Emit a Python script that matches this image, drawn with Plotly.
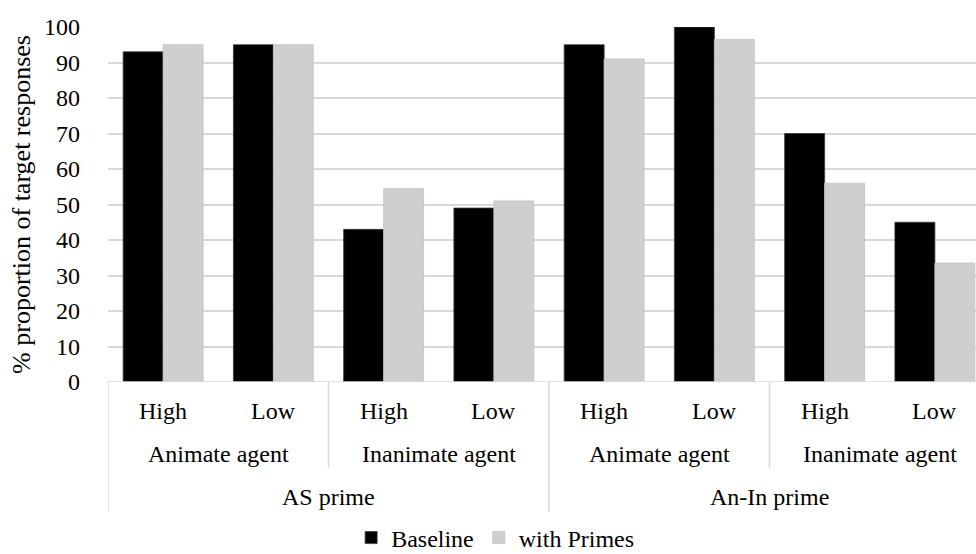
import plotly.graph_objects as go

# Grouping levels of the horizontal axis
primes = ["AS prime", "An-In prime"]
agents = ["Animate agent", "Inanimate agent"]
levels = ["High", "Low"]

# % proportion of target responses, one value per (prime, agent, level)
baseline = [93, 95, 43, 49, 95, 100, 70, 45]
with_primes = [95, 95, 54.5, 51, 91, 96.5, 56, 33.5]

y_ticks = [0, 10, 20, 30, 40, 50, 60, 70, 80, 90, 100]

FAMILY = "Liberation Serif"
GRID = "#D9D9D9"
GRAY = "#D0CECE"
FS = 24

# Flat category positions 0..7
n = len(primes) * len(agents) * len(levels)
xpos = list(range(n))
level_labels = [levels[i % len(levels)] for i in range(n)]

fig = go.Figure()
fig.add_trace(go.Bar(
    x=xpos, y=baseline, name="Baseline",
    marker=dict(color="#000000", line=dict(color="#3a3a3a", width=0.8)),
))
fig.add_trace(go.Bar(
    x=xpos, y=with_primes, name="with Primes",
    marker=dict(color=GRAY, line=dict(color="#c4c2c2", width=0.8)),
))

# Plot-area geometry in pixels (used to place the axis label rows)
W, H = 976, 554
L, R, T, B = 108, 0, 27, 172
ph = H - T - B


def py(px_below):
    """paper y for a distance in pixels below the x axis"""
    return -px_below / ph


def label(x, dy, text):
    fig.add_annotation(x=x, y=py(dy), xref="x", yref="paper", text=text,
                       showarrow=False, yanchor="middle", xanchor="center",
                       font=dict(family=FAMILY, size=FS, color="black"))


# level row
for i, lab in enumerate(level_labels):
    label(i, 29, lab)
# agent row
n_agent = len(levels)
for j in range(len(primes) * len(agents)):
    label(j * n_agent + (n_agent - 1) / 2, 72, agents[j % len(agents)])
# prime row
n_prime = len(agents) * len(levels)
for k, lab in enumerate(primes):
    label(k * n_prime + (n_prime - 1) / 2, 115, lab)

# dividers between agent groups (short) and prime groups (long)
for j in range(len(primes) * len(agents) + 1):
    xb = j * n_agent - 0.5
    long_line = (j % len(agents) == 0)
    fig.add_shape(type="line", xref="x", yref="paper", x0=xb, x1=xb,
                  y0=0, y1=py(130 if long_line else 86),
                  line=dict(color=GRID, width=1.5))
# x axis baseline
fig.add_shape(type="line", xref="paper", yref="y", x0=0, x1=1, y0=0, y1=0,
              line=dict(color=GRID, width=1.5))

fig.update_layout(
    width=W, height=H,
    margin=dict(l=L, r=R, t=T, b=B, autoexpand=False),
    plot_bgcolor="white", paper_bgcolor="white",
    barmode="group", bargap=0.275, bargroupgap=0,
    xaxis=dict(range=[-0.5, 7.373], showticklabels=False, showgrid=False,
               zeroline=False, showline=False, ticks=""),
    yaxis=dict(range=[0, 100], tickvals=y_ticks, showgrid=True, gridcolor=GRID,
               gridwidth=1.5, zeroline=False, showline=False, ticks="",
               ticklabelstandoff=27, automargin=False,
               tickfont=dict(family=FAMILY, size=FS, color="black"),
               title=dict(text="% proportion of target responses",
                          font=dict(family=FAMILY, size=26, color="black"),
                          standoff=5)),
    legend=dict(orientation="h", x=0.446, xanchor="center", y=py(156),
                yanchor="middle",
                font=dict(family=FAMILY, size=FS, color="black"),
                itemwidth=30, traceorder="normal"),
)

fig.write_html("out.html")
